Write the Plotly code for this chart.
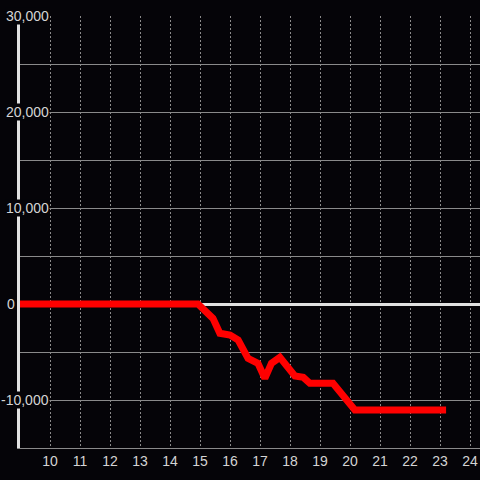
import plotly.graph_objects as go

####################################################################################################################
# DATA

# hour of day vs. cumulative value
hours = [8.9, 14.93, 15.43, 15.66, 16.0, 16.27, 16.6, 16.93, 17.16, 17.38, 17.66, 17.88,
         18.16, 18.44, 18.66, 19.43, 19.66, 19.88, 20.16, 23.2]
values = [0, 0, -1500, -3050, -3230, -3750, -5660, -6180, -7740, -6180, -5560, -6350,
          -7500, -7640, -8260, -8260, -9130, -9830, -11040, -11040]

x_ticks = list(range(10, 25))
x_labels = [str(h) for h in x_ticks]
y_ticks = [-10000, 0, 10000, 20000, 30000]
y_labels = ['-10,000', '0', '10,000', '20,000', '30,000']
y_minor = [-5000, 5000, 15000, 25000]

####################################################################################################################
# FIGURE

bg = '#050408'
grid = '#8a8a8a'
axis_white = '#e2e2e2'
label_col = '#d4d4d4'
font_family = 'Liberation Sans, Arial, sans-serif'

fig = go.Figure()
fig.add_trace(go.Scatter(x=hours, y=values, mode='lines',
                         line=dict(color='#ff0000', width=7),
                         showlegend=False, hoverinfo='skip'))

# y labels: left aligned near the canvas edge, minus sign hangs to the left,
# with a dark box that hides the axis line / grid behind them
for v, txt in zip(y_ticks, y_labels):
    shift = -15 - (5 if txt.startswith('-') else 0) + (1 if txt == '0' else 0)
    fig.add_annotation(x=0, xref='paper', y=v, yref='y', text=txt, showarrow=False,
                       xanchor='left', yanchor='middle', xshift=shift,
                       bgcolor=bg, borderpad=0,
                       font=dict(family=font_family, size=14, color=label_col))

fig.update_xaxes(range=[9, 24.33], tickvals=x_ticks, ticktext=x_labels, automargin=False,
                 showgrid=True, gridcolor=grid, gridwidth=1, griddash='2px,2px',
                 showline=True, linecolor=grid, linewidth=1, zeroline=False,
                 ticks='', tickfont=dict(family=font_family, size=14, color=label_col))
fig.update_yaxes(range=[-15000, 30000], tickvals=y_ticks, showticklabels=False, automargin=False,
                 showgrid=True, gridcolor=grid, gridwidth=1,
                 minor=dict(tickvals=y_minor, showgrid=True, gridcolor=grid, gridwidth=1),
                 zeroline=True, zerolinecolor=axis_white, zerolinewidth=3,
                 showline=True, linecolor=axis_white, linewidth=3, ticks='',
                 layer='below traces')

fig.update_layout(width=480, height=480, margin=dict(l=20, r=0, t=16, b=32, autoexpand=False),
                  paper_bgcolor=bg, plot_bgcolor=bg, showlegend=False,
                  font=dict(family=font_family, size=14, color=label_col))

# drop the page's default body margin so the chart sits at the top-left corner
fig.write_html("out.html", config={'displayModeBar': False},
               post_script="document.body.style.margin='0';")
